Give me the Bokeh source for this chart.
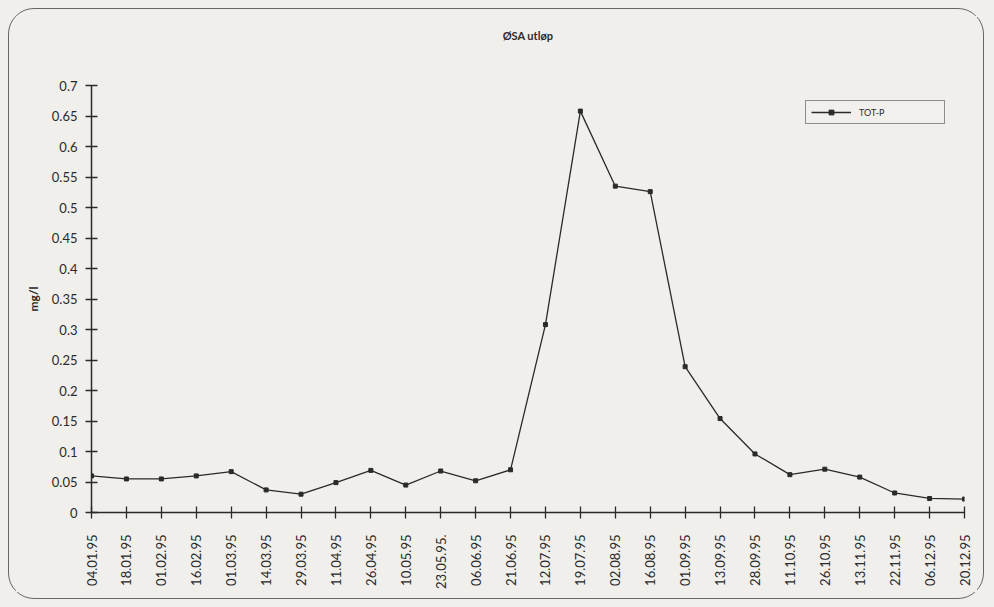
from bokeh.plotting import figure
from bokeh.models import Legend, LegendItem, FixedTicker, Range1d, Title
from bokeh.layouts import column
from bokeh.embed import file_html
from bokeh.resources import INLINE
import math

dates = ["04.01.95", "18.01.95", "01.02.95", "16.02.95", "01.03.95", "14.03.95", "29.03.95",
         "11.04.95", "26.04.95", "10.05.95", "23.05.95.", "06.06.95", "21.06.95", "12.07.95",
         "19.07.95", "02.08.95", "16.08.95", "01.09.95", "13.09.95", "28.09.95", "11.10.95",
         "26.10.95", "13.11.95", "22.11.95", "06.12.95", "20.12.95"]
tot_p = [0.060, 0.055, 0.055, 0.060, 0.067, 0.037, 0.030, 0.049, 0.069, 0.045, 0.068, 0.052,
         0.070, 0.308, 0.658, 0.535, 0.526, 0.239, 0.154, 0.096, 0.062, 0.071, 0.058, 0.032,
         0.023, 0.022]
y_ticks = [0, 0.05, 0.1, 0.15, 0.2, 0.25, 0.3, 0.35, 0.4, 0.45, 0.5, 0.55, 0.6, 0.65, 0.7]
y_tick_labels = ["0", "0.05", "0.1", "0.15", "0.2", "0.25", "0.3", "0.35", "0.4", "0.45",
                 "0.5", "0.55", "0.6", "0.65", "0.7"]

FONT = "Lato"
BG = "#f0efec"
INK = "#2a2a2a"

xs = list(range(len(dates)))

p = figure(width=962, height=577, output_backend="svg", toolbar_location=None,
           x_range=Range1d(0, len(dates) - 1), y_range=Range1d(0, 0.7),
           min_border_left=76, min_border_right=13, min_border_top=70, min_border_bottom=80,
           title="ØSA utløp")
p.background_fill_color = BG
p.border_fill_color = BG
p.outline_line_color = None
p.xgrid.grid_line_color = None
p.ygrid.grid_line_color = None

p.title.align = "center"
p.title.text_font = FONT
p.title.text_font_size = "11px"
p.title.text_font_style = "bold"
p.title.text_color = INK
p.add_layout(Title(text=" ", text_font_size="24px"), "above")

line = p.line(xs, tot_p, line_color=INK, line_width=1.3)
pts = p.scatter(xs, tot_p, marker="square", size=4, fill_color=INK, line_color=INK)

p.xaxis.ticker = FixedTicker(ticks=xs)
p.xaxis.major_label_overrides = {i: d for i, d in enumerate(dates)}
p.xaxis.major_label_orientation = math.pi / 2
p.xaxis.major_label_text_font = FONT
p.xaxis.major_label_text_font_size = "13px"
p.xaxis.major_label_text_color = INK
p.xaxis.major_label_standoff = 16
p.xaxis.minor_tick_line_color = None
p.xaxis.major_tick_in = 6
p.xaxis.major_tick_out = 6

p.yaxis.ticker = FixedTicker(ticks=y_ticks)
p.yaxis.major_label_overrides = {t: l for t, l in zip(y_ticks, y_tick_labels)}
p.yaxis.major_label_text_font = FONT
p.yaxis.major_label_text_font_size = "13px"
p.yaxis.major_label_text_color = INK
p.yaxis.major_label_standoff = 8
p.yaxis.minor_tick_line_color = None
p.yaxis.major_tick_in = 6
p.yaxis.major_tick_out = 6
p.yaxis.axis_label = "mg/l"
p.yaxis.axis_label_text_font = FONT
p.yaxis.axis_label_text_font_size = "12px"
p.yaxis.axis_label_text_font_style = "bold"
p.yaxis.axis_label_text_color = INK
p.yaxis.axis_label_standoff = 8

for ax in (p.xaxis, p.yaxis):
    ax.axis_line_color = INK
    ax.axis_line_width = 1.5
    ax.major_tick_line_color = INK
    ax.major_tick_line_width = 1.3

legend = Legend(items=[LegendItem(label="TOT-P", renderers=[line, pts])],
                location=(714, 388), padding=5, glyph_width=40, glyph_height=12,
                label_standoff=8, label_width=80, label_text_font=FONT,
                label_text_font_size="9px", label_text_color=INK,
                border_line_color=INK, border_line_width=1, background_fill_color=BG)
p.add_layout(legend)

card = column(p, styles={"margin": "8px 0 0 8px", "padding": "6px",
                         "border": "1.5px solid #666666", "border-radius": "26px",
                         "background-color": BG})
page = column(card, styles={"background-color": BG, "padding-right": "12px",
                            "padding-bottom": "10px"})

open("out.html", "w").write(file_html(page, INLINE))
